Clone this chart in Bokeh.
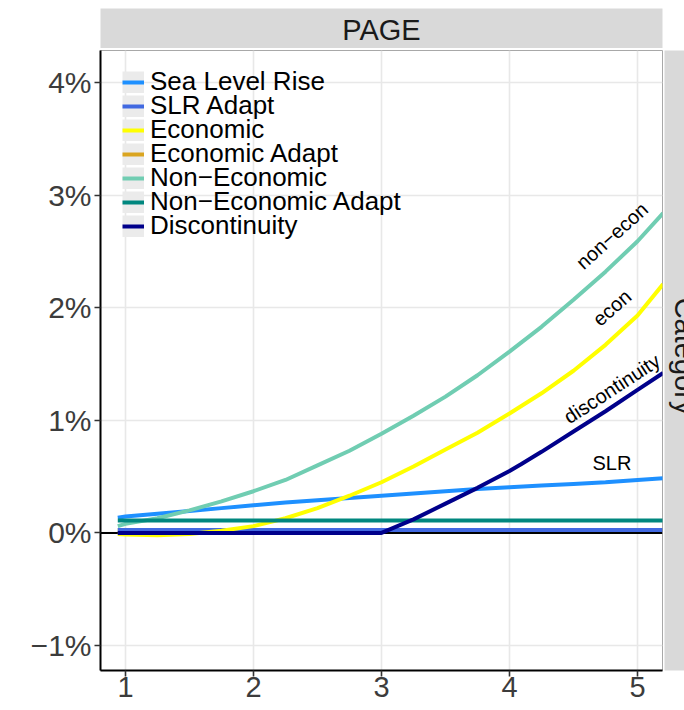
import math
from bokeh.plotting import figure
from bokeh.layouts import column, row
from bokeh.models import Legend, LegendItem, FixedTicker, Span, Range1d
from bokeh.core.properties import value
from bokeh.embed import file_html
from bokeh.resources import INLINE

FONT = "Liberation Sans"

# ---------------- data ----------------
x_grid = [0.94, 1.0, 1.25, 1.5, 1.75, 2.0, 2.25, 2.5, 2.75, 3.0,
          3.25, 3.5, 3.75, 4.0, 4.25, 4.5, 4.75, 5.0, 5.2]

sea_level_rise = [0.135, 0.145, 0.17, 0.195, 0.22, 0.245, 0.27, 0.29, 0.31, 0.33,
                  0.35, 0.37, 0.39, 0.405, 0.42, 0.435, 0.45, 0.47, 0.485]
slr_adapt = [0.025, 0.025, 0.025, 0.025, 0.025, 0.025, 0.025, 0.025, 0.025, 0.025,
             0.025, 0.025, 0.025, 0.025, 0.025, 0.025, 0.025, 0.025, 0.025]
economic = [-0.01, -0.015, -0.02, -0.01, 0.02, 0.06, 0.13, 0.22, 0.33, 0.45,
            0.59, 0.74, 0.89, 1.06, 1.24, 1.44, 1.67, 1.93, 2.21]
economic_adapt = [0.025, 0.025, 0.025, 0.025, 0.025, 0.025, 0.025, 0.025, 0.025, 0.025,
                  0.025, 0.025, 0.025, 0.025, 0.025, 0.025, 0.025, 0.025, 0.025]
non_economic = [0.06, 0.08, 0.13, 0.20, 0.28, 0.37, 0.47, 0.60, 0.73, 0.88,
                1.04, 1.21, 1.40, 1.61, 1.83, 2.07, 2.32, 2.59, 2.84]
non_economic_adapt = [0.11, 0.11, 0.11, 0.11, 0.11, 0.11, 0.11, 0.11, 0.11, 0.11,
                      0.11, 0.11, 0.11, 0.11, 0.11, 0.11, 0.11, 0.11, 0.11]

x_disc = [0.94, 3.0, 3.25, 3.5, 3.75, 4.0, 4.09, 4.25, 4.5, 4.75, 5.0, 5.2]
discontinuity = [0.0, 0.0, 0.12, 0.26, 0.40, 0.55, 0.61, 0.72, 0.90, 1.08, 1.27, 1.42]

series_names = ["Sea Level Rise", "SLR Adapt", "Economic", "Economic Adapt",
                "Non\u2212Economic", "Non\u2212Economic Adapt", "Discontinuity"]
series_colors = ["#1E90FF", "#4169E1", "#FFFF00", "#DAA520",
                 "#70CDB2", "#00877F", "#00008B"]

x_ticks = [1, 2, 3, 4, 5]
x_tick_labels = ["1", "2", "3", "4", "5"]
y_ticks = [-1, 0, 1, 2, 3, 4]
y_tick_labels = ["\u22121%", "0%", "1%", "2%", "3%", "4%"]

label_text = ["non\u2212econ", "econ", "discontinuity", "SLR"]
label_x = [4.80, 4.80, 4.80, 4.80]
label_y = [2.64, 2.00, 1.28, 0.62]
label_angle = [42, 41, 33, 0]

facet_title = ["PAGE"]
row_strip_title = ["Category"]

# ---------------- geometry ----------------
LEFT, FW, GAP, STRIP_R = 100, 562, 2, 20
TOP_PAD, STRIP_H = 8, 40
PANEL_TOP, FH, BOTTOM = 2, 620, 40
STRIP_FILL = "#D9D9D9"
KEY_FILL = "#EBEBEB"

# ---------------- main panel ----------------
p = figure(frame_width=FW, frame_height=FH,
           x_range=Range1d(0.805, 5.195), y_range=Range1d(-1.222, 4.284),
           output_backend="svg", toolbar_location=None,
           min_border_left=LEFT, min_border_right=GAP,
           min_border_top=PANEL_TOP, min_border_bottom=BOTTOM,
           background_fill_color="white", border_fill_color="white")
p.outline_line_color = "#A8A8A8"
p.outline_line_width = 1

for g, t in ((p.xgrid, x_ticks), (p.ygrid, y_ticks)):
    g.ticker = FixedTicker(ticks=t)
    g.grid_line_color = "#E8E8E8"
    g.grid_line_width = 1.6
    g.minor_grid_line_color = None

for ax in (p.xaxis, p.yaxis):
    ax.axis_line_color = "black"
    ax.axis_line_width = 2
    ax.major_tick_line_color = "#333333"
    ax.major_tick_line_width = 1.6
    ax.major_tick_out = 6
    ax.major_tick_in = 0
    ax.minor_tick_line_color = None
    ax.major_label_text_font = FONT
    ax.major_label_text_color = "#3C3C3C"
p.xaxis.major_label_text_font_size = "29px"
p.yaxis.major_label_text_font_size = "30px"
p.xaxis.ticker = FixedTicker(ticks=x_ticks)
p.xaxis.major_label_overrides = dict(zip(x_ticks, x_tick_labels))
p.xaxis.major_label_standoff = 0
p.yaxis.ticker = FixedTicker(ticks=y_ticks)
p.yaxis.major_label_overrides = dict(zip(y_ticks, y_tick_labels))
p.yaxis.major_label_standoff = 3

p.add_layout(Span(location=0, dimension="width", line_color="black",
                  line_width=2, level="underlay"))

series_y = [sea_level_rise, slr_adapt, economic, economic_adapt,
            non_economic, non_economic_adapt, discontinuity]
series_x = [x_grid, x_grid, x_grid, x_grid, x_grid, x_grid, x_disc]

# grey legend key boxes: a one-point line draws nothing in the panel,
# but its legend glyph paints the key background
key_box = p.line(x=x_grid[:1], y=slr_adapt[:1], line_color=KEY_FILL, line_width=22)

draw_order = [3, 0, 1, 2, 4, 5, 6]
renderers = {}
for i in draw_order:
    renderers[i] = p.line(series_x[i], series_y[i], line_color=series_colors[i],
                          line_width=4)

p.text(x=label_x, y=label_y, text=label_text, angle=label_angle, angle_units="deg",
       text_font=value(FONT), text_font_size="20px", text_align="center",
       text_baseline="middle", text_color="black")

# legend: one row per Legend so rows can sit 24px apart
ROW_PITCH, FIRST_ROW, ITEM_H = 24, 32, 30
for i, name in enumerate(series_names):
    lg = Legend(items=[LegendItem(label=name, renderers=[key_box, renderers[i]])],
                location=(22, FH - FIRST_ROW - ROW_PITCH * i - ITEM_H / 2))
    lg.background_fill_alpha = 0
    lg.border_line_alpha = 0
    lg.label_text_font = FONT
    lg.label_text_font_size = "26px"
    lg.label_text_color = "black"
    lg.glyph_width = 22
    lg.glyph_height = 22
    lg.label_height = 22
    lg.label_standoff = 6
    lg.spacing = 0
    lg.margin = 0
    lg.padding = 0
    p.add_layout(lg)

# ---------------- facet strip (top) ----------------
top = figure(frame_width=FW, frame_height=STRIP_H,
             x_range=Range1d(0, FW), y_range=Range1d(0, STRIP_H),
             output_backend="svg", toolbar_location=None,
             x_axis_type=None, y_axis_type=None,
             min_border_left=LEFT, min_border_right=GAP + STRIP_R,
             min_border_top=TOP_PAD, min_border_bottom=0,
             background_fill_color=STRIP_FILL, border_fill_color="white")
top.outline_line_color = None
top.grid.visible = False
top.text(x=[FW / 2], y=[STRIP_H / 2 - 1], text=facet_title,
         text_font=value(FONT), text_font_size="29px", text_color="#1A1A1A",
         text_align="center", text_baseline="middle")

# ---------------- row strip (right, cut by the page edge) ----------------
side = figure(frame_width=STRIP_R, frame_height=FH,
              x_range=Range1d(0, STRIP_R), y_range=Range1d(0, FH),
              output_backend="svg", toolbar_location=None,
              x_axis_type=None, y_axis_type=None,
              min_border_left=0, min_border_right=0,
              min_border_top=PANEL_TOP, min_border_bottom=BOTTOM,
              background_fill_color=STRIP_FILL, border_fill_color="white")
side.outline_line_color = None
side.grid.visible = False
side.text(x=[STRIP_R], y=[314], text=row_strip_title, angle=[-math.pi / 2],
          text_font=value(FONT), text_font_size="29px", text_color="#1A1A1A",
          text_align="center", text_baseline="middle")

layout = column(top, row(p, side, spacing=0), spacing=0)
open("out.html", "w").write(file_html(layout, INLINE))
